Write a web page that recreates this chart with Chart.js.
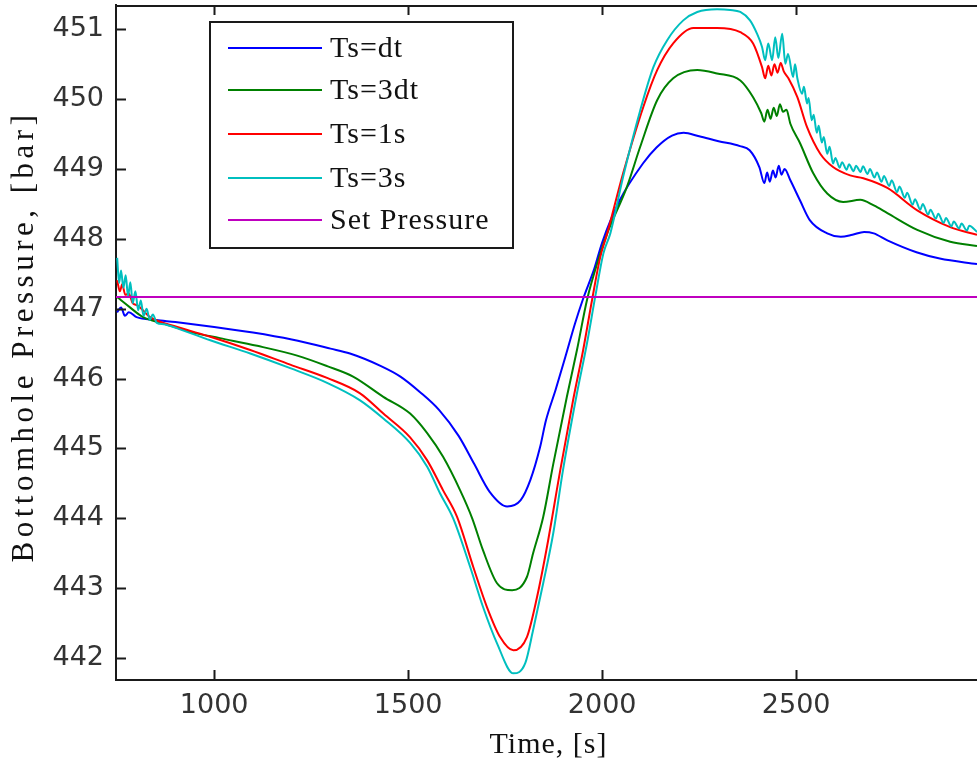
<!DOCTYPE html>
<html>
<head>
<meta charset="utf-8">
<title>Bottomhole Pressure</title>
<script src="https://cdn.jsdelivr.net/npm/chart.js@4.4.1/dist/chart.umd.min.js"></script>
<style>
  html, body { margin: 0; padding: 0; background: #fff; }
  #wrap { width: 977px; height: 762px; }
</style>
</head>
<body>
<div id="wrap"><canvas id="chart" width="977" height="762"></canvas></div>
<script>
// data (time in s, pressure in bar)
var seriesNames = ['Ts=dt', 'Ts=3dt', 'Ts=1s', 'Ts=3s', 'Set Pressure'];
var seriesColors = ['#0000ff', '#008000', '#ff0000', '#00bfbf', '#bf00bf'];

var xTicks = [1000, 1500, 2000, 2500];
var yTicks = [442, 443, 444, 445, 446, 447, 448, 449, 450, 451];

var tBlue = [750, 760, 770, 780, 800, 850, 900, 1000, 1100, 1200, 1300, 1350, 1430, 1480, 1530, 1580, 1630, 1670, 1710, 1755, 1790, 1815, 1840, 1855, 1880, 1905, 1930, 1950, 1980, 2000, 2045, 2105, 2140, 2180, 2210, 2250, 2300, 2355, 2380, 2405, 2418, 2425, 2432, 2440, 2447, 2455, 2462, 2470, 2485, 2510, 2535, 2580, 2615, 2645, 2675, 2700, 2735, 2810, 2870, 2966];
var pBlue = [446.95, 447.02, 446.90, 446.95, 446.88, 446.84, 446.81, 446.74, 446.66, 446.56, 446.43, 446.36, 446.18, 446.03, 445.81, 445.55, 445.18, 444.78, 444.38, 444.17, 444.26, 444.55, 445.02, 445.40, 445.84, 446.31, 446.79, 447.13, 447.58, 447.95, 448.55, 449.08, 449.31, 449.48, 449.52, 449.47, 449.40, 449.33, 449.27, 449.03, 448.80, 448.95, 448.82, 448.98, 448.88, 449.05, 448.92, 449.00, 448.84, 448.55, 448.27, 448.08, 448.03, 448.06, 448.10, 448.08, 447.98, 447.81, 447.72, 447.64];

var tGreen = [750, 765, 783, 817, 869, 938, 1015, 1111, 1214, 1291, 1358, 1436, 1505, 1549, 1590, 1634, 1665, 1693, 1729, 1768, 1806, 1822, 1848, 1874, 1909, 1935, 1961, 1990, 2013, 2064, 2098, 2142, 2183, 2245, 2296, 2356, 2389, 2410, 2418, 2426, 2434, 2442, 2450, 2458, 2466, 2475, 2485, 2510, 2544, 2580, 2621, 2665, 2700, 2735, 2812, 2897, 2966];
var pGreen = [447.17, 447.10, 447.02, 446.88, 446.79, 446.67, 446.58, 446.47, 446.33, 446.18, 446.03, 445.74, 445.50, 445.22, 444.88, 444.40, 444.00, 443.54, 443.07, 442.97, 443.16, 443.50, 444.02, 444.78, 445.74, 446.41, 447.13, 447.70, 448.08, 448.75, 449.32, 449.99, 450.30, 450.42, 450.37, 450.27, 450.03, 449.80, 449.68, 449.85, 449.72, 449.88, 449.76, 449.93, 449.82, 449.85, 449.65, 449.37, 448.94, 448.65, 448.53, 448.56, 448.48, 448.37, 448.13, 447.96, 447.90];

var tRed = [750, 757, 763, 771, 780, 790, 802, 835, 905, 990, 1093, 1196, 1291, 1376, 1436, 1505, 1549, 1590, 1626, 1668, 1703, 1737, 1771, 1806, 1832, 1858, 1892, 1925, 1951, 1974, 1995, 2013, 2054, 2106, 2142, 2183, 2235, 2296, 2356, 2389, 2412, 2420, 2428, 2436, 2444, 2452, 2460, 2468, 2480, 2503, 2528, 2562, 2595, 2639, 2673, 2735, 2812, 2897, 2966];
var pRed = [447.41, 447.25, 447.35, 447.20, 447.22, 447.08, 447.05, 446.88, 446.74, 446.60, 446.41, 446.20, 446.01, 445.79, 445.50, 445.16, 444.83, 444.40, 444.02, 443.30, 442.73, 442.30, 442.11, 442.30, 442.87, 443.60, 444.69, 445.69, 446.41, 447.13, 447.74, 448.08, 448.94, 449.89, 450.42, 450.80, 451.02, 451.02, 450.96, 450.80, 450.46, 450.30, 450.48, 450.34, 450.50, 450.38, 450.52, 450.40, 450.30, 450.03, 449.60, 449.22, 449.03, 448.91, 448.87, 448.73, 448.41, 448.17, 448.06];

var tCyan = [750, 755, 760, 766, 772, 778, 784, 790, 797, 804, 811, 818, 826, 834, 842, 852, 870, 905, 990, 1093, 1196, 1291, 1376, 1436, 1505, 1549, 1582, 1616, 1660, 1693, 1729, 1771, 1802, 1822, 1848, 1874, 1899, 1935, 1961, 1982, 2003, 2021, 2054, 2098, 2132, 2168, 2209, 2245, 2296, 2330, 2356, 2381, 2399, 2412, 2420, 2428, 2438, 2446, 2454, 2464, 2472, 2479, 2492, 2497, 2503, 2515, 2520, 2528, 2532, 2540, 2545, 2553, 2558, 2566, 2571, 2580, 2586, 2595, 2601, 2612, 2618, 2630, 2636, 2648, 2654, 2666, 2672, 2684, 2690, 2702, 2708, 2720, 2726, 2740, 2746, 2760, 2766, 2780, 2786, 2800, 2806, 2820, 2826, 2840, 2846, 2860, 2866, 2880, 2886, 2900, 2906, 2920, 2926, 2940, 2946, 2966];
var pCyan = [447.73, 447.37, 447.55, 447.30, 447.48, 447.18, 447.38, 447.08, 447.25, 446.98, 447.12, 446.90, 447.00, 446.84, 446.92, 446.80, 446.78, 446.72, 446.55, 446.36, 446.15, 445.94, 445.69, 445.43, 445.08, 444.74, 444.36, 444.00, 443.30, 442.73, 442.21, 441.78, 441.93, 442.40, 443.07, 443.79, 444.69, 445.79, 446.51, 447.17, 447.79, 448.08, 448.89, 449.84, 450.46, 450.85, 451.13, 451.25, 451.29, 451.28, 451.25, 451.13, 450.94, 450.75, 450.56, 450.80, 450.56, 450.89, 450.59, 450.94, 450.51, 450.65, 450.32, 450.50, 450.30, 450.08, 450.18, 449.94, 450.02, 449.70, 449.78, 449.52, 449.62, 449.38, 449.46, 449.22, 449.32, 449.08, 449.16, 449.02, 449.10, 448.99, 449.07, 448.97, 449.05, 448.96, 449.04, 448.93, 449.00, 448.88, 448.95, 448.82, 448.90, 448.76, 448.84, 448.67, 448.75, 448.59, 448.66, 448.49, 448.57, 448.42, 448.50, 448.35, 448.42, 448.29, 448.36, 448.23, 448.30, 448.18, 448.25, 448.15, 448.22, 448.12, 448.19, 448.10];

var tSet = [700, 3000];
var pSet = [447.17, 447.17];

var xMin = 747, xMax = 2966;
var yMin = 441.685, yMax = 451.35;

function pairs(t, p) {
    return t.map(function(v, i) { return {x: v, y: p[i]}; });
}

var allT = [tBlue, tGreen, tRed, tCyan, tSet];
var allP = [pBlue, pGreen, pRed, pCyan, pSet];
var datasets = [];
for (var i = 0; i < seriesNames.length; i++) {
    datasets.push({
        label: seriesNames[i],
        data: pairs(allT[i], allP[i]),
        borderColor: seriesColors[i],
        backgroundColor: seriesColors[i],
        borderWidth: 2,
        pointRadius: 0,
        cubicInterpolationMode: 'monotone',
        fill: false,
        order: seriesNames.length - i
    });
}

var axisColor = '#1a1a1a';
var tickFont = { family: 'DejaVu Sans', size: 27 };
var serifFont = '30px "Liberation Serif", "Times New Roman", serif';

// no automatic label padding, the plot box is placed by hand
function noPad(s) {
    s.paddingTop = 0;
    s.paddingBottom = 0;
    s.paddingLeft = 0;
    s.paddingRight = 0;
}

// MATLAB-like box: top line, inward ticks on bottom/top/left
var boxTicks = {
    id: 'boxTicks',
    afterDraw: function(chart) {
        var ctx = chart.ctx, a = chart.chartArea;
        var xs = chart.scales.x, ys = chart.scales.y;
        ctx.save();
        ctx.strokeStyle = axisColor;
        ctx.lineWidth = 2;
        ctx.beginPath();
        ctx.moveTo(a.left, a.top + 1);
        ctx.lineTo(a.right, a.top + 1);
        xs.ticks.forEach(function(t) {
            var px = Math.round(xs.getPixelForValue(t.value)) + 0.5;
            ctx.moveTo(px, a.bottom);
            ctx.lineTo(px, a.bottom - 10);
            ctx.moveTo(px, a.top);
            ctx.lineTo(px, a.top + 10);
        });
        ys.ticks.forEach(function(t) {
            var py = Math.round(ys.getPixelForValue(t.value)) + 0.5;
            ctx.moveTo(a.left, py);
            ctx.lineTo(a.left + 10, py);
        });
        ctx.stroke();
        ctx.restore();
    }
};

var boxLegend = {
    id: 'boxLegend',
    afterDraw: function(chart) {
        var ctx = chart.ctx;
        var bx = 210, by = 22, bw = 303, bh = 226;
        var rows = [48, 90, 134, 178, 220];
        ctx.save();
        ctx.fillStyle = '#fff';
        ctx.fillRect(bx, by, bw, bh);
        ctx.strokeStyle = axisColor;
        ctx.lineWidth = 2;
        ctx.strokeRect(bx, by, bw, bh);
        ctx.font = serifFont;
        ctx.textBaseline = 'middle';
        ctx.textAlign = 'left';
        ctx.letterSpacing = '1px';
        chart.data.datasets.forEach(function(ds, i) {
            ctx.strokeStyle = ds.borderColor;
            ctx.lineWidth = 2;
            ctx.beginPath();
            ctx.moveTo(228, rows[i]);
            ctx.lineTo(322, rows[i]);
            ctx.stroke();
            ctx.fillStyle = '#111';
            ctx.fillText(ds.label, 330, rows[i] + 1);
        });
        ctx.restore();
    }
};

var axisTitles = {
    id: 'axisTitles',
    afterDraw: function(chart) {
        var ctx = chart.ctx, a = chart.chartArea;
        ctx.save();
        ctx.font = serifFont;
        ctx.fillStyle = '#111';
        ctx.textAlign = 'center';
        ctx.textBaseline = 'middle';
        ctx.letterSpacing = '1px';
        ctx.fillText('Time, [s]', (a.left + a.right) / 2 + 2, 745);
        ctx.font = '31px "Liberation Serif", "Times New Roman", serif';
        ctx.letterSpacing = '4.5px';
        ctx.translate(25, (a.top + a.bottom) / 2 - 6);
        ctx.rotate(-Math.PI / 2);
        ctx.fillText('Bottomhole Pressure, [bar]', 0, 0);
        ctx.restore();
    }
};

var ctx = document.getElementById('chart').getContext('2d');
var chart = new Chart(ctx, {
    type: 'line',
    data: { datasets: datasets },
    options: {
        responsive: false,
        animation: false,
        events: [],
        layout: { padding: { top: 5, right: 0, left: 0, bottom: 0 } },
        plugins: {
            legend: { display: false },
            tooltip: { enabled: false }
        },
        scales: {
            x: {
                type: 'linear',
                min: xMin,
                max: xMax,
                afterBuildTicks: function(s) { s.ticks = xTicks.map(function(v) { return {value: v}; }); },
                afterFit: function(s) { s.height = 82; noPad(s); },
                ticks: {
                    color: '#333',
                    font: tickFont,
                    padding: 10,
                    maxRotation: 0,
                    autoSkip: false,
                    callback: function(v) { return String(v); }
                },
                grid: { display: false, drawTicks: false },
                border: { display: true, color: axisColor, width: 2 }
            },
            y: {
                type: 'linear',
                min: yMin,
                max: yMax,
                afterBuildTicks: function(s) { s.ticks = yTicks.map(function(v) { return {value: v}; }); },
                afterFit: function(s) { s.width = 116; noPad(s); },
                ticks: {
                    color: '#333',
                    font: tickFont,
                    padding: 12,
                    autoSkip: false,
                    callback: function(v) { return String(v); }
                },
                grid: { display: false, drawTicks: false },
                border: { display: true, color: axisColor, width: 2 }
            }
        }
    },
    plugins: [boxTicks, boxLegend, axisTitles]
});
</script>
</body>
</html>
